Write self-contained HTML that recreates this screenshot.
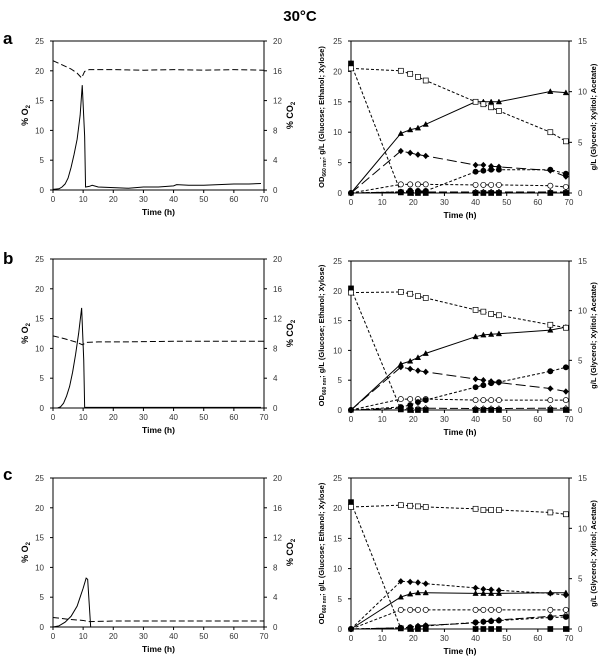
<!DOCTYPE html>
<html><head><meta charset="utf-8"><style>
html,body{margin:0;padding:0;background:#fff;}
svg{display:block;font-family:"Liberation Sans",sans-serif;}
</style></head><body>
<svg id="fig" width="600" height="659" viewBox="0 0 600 659">
<text x="300" y="21" text-anchor="middle" font-size="15" font-weight="bold">30°C</text>
</svg>
<script>
// ---------- data ----------
const sampleTimes = [0,16,19,21.5,24,40,42.5,45,47.5,64,69];
const xyloseA = [20.5,20.1,19.6,19.1,18.5,15.0,14.6,14.1,13.5,10.0,8.5];
const glucoseA = [21.3,0.1,0,0,0,0,0,0,0,0,0];
const triA = [0,9.8,10.4,10.7,11.3,15.0,15.0,15.0,15.0,16.7,16.5];
const diaA = [0,6.9,6.6,6.3,6.1,4.6,4.6,4.4,4.3,3.7,2.7];
const fcircA = [0,0.12,0.24,0.2,0.2,2.1,2.2,2.3,2.3,2.3,1.9];
const ocircA = [0,0.85,0.85,0.85,0.85,0.8,0.8,0.8,0.8,0.72,0.6];
const odiaA = [0,0.1,0.1,0.1,0.1,0.1,0.1,0.1,0.1,0.1,0.1];

const xyloseB = [19.7,19.8,19.5,19.1,18.8,16.8,16.5,16.1,15.9,14.3,13.8];
const glucoseB = [20.4,0.1,0,0,0,0,0,0,0,0,0];
const triB = [0,7.7,8.2,8.8,9.5,12.3,12.6,12.7,12.8,13.4,13.9];
const diaB = [0,7.2,6.9,6.6,6.4,5.2,5.0,4.8,4.6,3.6,3.1];
const fcircB = [0,0.3,0.5,0.8,1.0,2.3,2.5,2.7,2.8,3.9,4.3];
const ocircB = [0,1.1,1.1,1.1,1.1,1.0,1.0,1.0,1.0,1.0,1.0];
const odiaB = [0,0.18,0.18,0.18,0.18,0.15,0.15,0.15,0.15,0.18,0.18];

const xyloseC = [20.2,20.5,20.4,20.3,20.2,19.9,19.7,19.7,19.7,19.3,19.0];
const glucoseC = [21.0,0.1,0,0,0,0,0,0,0,0,0];
const triC = [0,5.3,5.8,6.0,6.0,5.9,5.9,5.9,5.9,6.0,6.0];
const diaC = [0,7.9,7.8,7.7,7.5,6.8,6.6,6.5,6.4,5.9,5.6];
const fcircC = [0,0.12,0.18,0.24,0.3,0.66,0.72,0.78,0.84,1.14,1.2];
const ocircC = [0,1.9,1.9,1.9,1.9,1.9,1.9,1.9,1.9,1.9,1.9];
const odiaC = [0,0.12,0.18,0.3,0.36,0.6,0.72,0.84,0.9,1.26,1.38];

const gasTimeA = [0,2,3,4,5,6,7,8,9,9.7,10.5,10.8,12,13,15,20,25,30,35,40,41,45,50,55,60,65,69];
const solidA  = [0.1,0.2,0.5,1.0,2.0,3.8,6.0,8.5,12.5,17.6,9,0.5,0.6,0.8,0.5,0.4,0.3,0.5,0.5,0.7,0.9,0.8,0.8,0.9,1.0,1.0,1.1];
const dashTimeA = [0,3,6,8,9.5,10.5,12,20,30,40,50,60,70];
const dashA = [21.7,21.0,20.3,19.6,18.8,19.9,20.2,20.2,20.1,20.2,20.1,20.2,20.1];

const gasTimeB = [0,1.5,2.5,3.5,4.5,5.5,6.5,7.5,8.5,9.5,10.2,10.5,12,20,30,40,50,60,69];
const solidB  = [0,0,0.2,0.8,2.0,3.6,6.0,9.0,12.5,16.8,8,0.1,0.1,0.1,0.1,0.1,0.1,0.1,0.1];
const dashTimeB = [0,4,8,9.8,11,15,25,40,50,60,70];
const dashB = [12.1,11.6,11.0,10.6,11.0,11.1,11.1,11.2,11.2,11.2,11.2];

const gasTimeC = [0,2,4,6,8,9,10,11,11.5,12.5,14,30,50,70];
const solidC  = [0,0.2,0.8,1.8,3.5,5.0,6.5,8.2,8.0,0,0,0,0,0];
const dashTimeC = [0,5,10,12,20,30,40,50,60,70];
const dashC = [1.6,1.3,1.1,0.9,1.0,1.0,1.0,1.0,1.0,1.0];

const xTicks = [0,10,20,30,40,50,60,70];
const leftTicks = [0,5,10,15,20,25];
const co2Ticks = [0,4,8,12,16,20];
const glTicks = [0,5,10,15];

// ---------- drawing ----------
const NS="http://www.w3.org/2000/svg";
const svg=document.getElementById('fig');
function el(tag,attrs,parent){const e=document.createElementNS(NS,tag);for(const k in attrs)e.setAttribute(k,attrs[k]);(parent||svg).appendChild(e);return e;}

function axes(g,x0,x1,y0,y1,rightTicks,rightMax){
  const sx=t=>x0+(t/70)*(x1-x0);
  const sy=v=>y1-(v/25)*(y1-y0);
  const sr=v=>y1-(v/rightMax)*(y1-y0);
  const box=el('rect',{x:x0,y:y0,width:x1-x0,height:y1-y0,fill:'none',stroke:'#000','stroke-width':1},g);
  
  xTicks.forEach(t=>{
    el('line',{x1:sx(t),x2:sx(t),y1:y1,y2:y1+3,stroke:'#000'},g);
    const tx=el('text',{x:sx(t),y:y1+12,'text-anchor':'middle','font-size':8,fill:'#333'},g);tx.textContent=t;
    
  });
  leftTicks.forEach(v=>{
    el('line',{x1:x0-3,x2:x0,y1:sy(v),y2:sy(v),stroke:'#000'},g);
    const tx=el('text',{x:x0-9,y:sy(v)+3,'text-anchor':'end','font-size':8,fill:'#333'},g);tx.textContent=v;
    
  });
  rightTicks.forEach(v=>{
    el('line',{x1:x1,x2:x1+3,y1:sr(v),y2:sr(v),stroke:'#000'},g);
    const tx=el('text',{x:x1+9,y:sr(v)+3,'font-size':8,fill:'#333'},g);tx.textContent=v;
    
  });
  const xt=el('text',{x:(x0+x1)/2,y:y1+25,'text-anchor':'middle','font-size':8.5,'font-weight':'bold'},g);xt.textContent='Time (h)';
  
  return {sx,sy,sr};
}

function poly(g,xs,ys,sx,sy,dash,name){
  const p=el('polyline',{points:xs.map((t,i)=>sx(t)+','+sy(ys[i])).join(' '),fill:'none',stroke:'#000','stroke-width':1,'stroke-dasharray':dash||'none'},g);
  
}
function markers(g,xs,ys,sx,sy,shape,fill,name){
  xs.forEach((t,i)=>{
    const x=sx(t),y=sy(ys[i]);let m;
    if(shape==='sq')m=el('rect',{x:x-2.5,y:y-2.5,width:5,height:5,fill:fill,stroke:'#000','stroke-width':0.7},g);
    else if(shape==='ci')m=el('circle',{cx:x,cy:y,r:2.6,fill:fill,stroke:'#000','stroke-width':0.7},g);
    else if(shape==='tr')m=el('polygon',{points:`${x},${y-2.8} ${x-2.7},${y+2.2} ${x+2.7},${y+2.2}`,fill:fill,stroke:'#000','stroke-width':0.5},g);
    else m=el('polygon',{points:`${x},${y-2.7} ${x+2.5},${y} ${x},${y+2.7} ${x-2.5},${y}`,fill:fill,stroke:'#000','stroke-width':0.7},g);
    
  });
}

function gasPanel(label,ly,y0,y1,tS,sS,tD,sD){
  const g=el('g',{});
  
  const L=el('text',{x:3,y:ly,'font-size':17,'font-weight':'bold'},g);L.textContent=label;
  
  const a=axes(g,53,264,y0,y1,co2Ticks,20);
  const yt=el('text',{transform:`translate(28,${(y0+y1)/2}) rotate(-90)`,'text-anchor':'middle','font-size':9,'font-weight':'bold'},g);
  yt.innerHTML='% O<tspan font-size="6" dy="2">2</tspan>';
  
  const rt=el('text',{transform:`translate(293,${(y0+y1)/2}) rotate(-90)`,'text-anchor':'middle','font-size':9,'font-weight':'bold'},g);
  rt.innerHTML='% CO<tspan font-size="6" dy="2">2</tspan>';
  
  poly(g,tD,sD,a.sx,a.sy,'6,3','dashed-gas-line');
  poly(g,tS,sS,a.sx,a.sy,null,'solid-gas-line');
}

function fermPanel(name,y0,y1,xy,gl,tri,dia,fc,oc,od,diaDash){
  const g=el('g',{});
  
  const a=axes(g,351,569,y0,y1,glTicks,15);
  const yt=el('text',{transform:`translate(324,${(y0+y1)/2}) rotate(-90)`,'text-anchor':'middle','font-size':7.5,'font-weight':'bold'},g);
  yt.innerHTML='OD<tspan font-size="5" dy="2">660 nm</tspan><tspan dy="-2">; g/L (Glucose; Ethanol; Xylose)</tspan>';
  
  const rt=el('text',{transform:`translate(596,${(y0+y1)/2}) rotate(-90)`,'text-anchor':'middle','font-size':7.5,'font-weight':'bold'},g);
  rt.textContent='g/L (Glycerol; Xylitol; Acetate)';
  
  const T=sampleTimes;
  poly(g,T,od,a.sx,a.sr,'8,3','open-diamond-line');
  poly(g,T,oc,a.sx,a.sr,'3,2','open-circle-line');
  poly(g,T,fc,a.sx,a.sr,'3,2','filled-circle-line');
  poly(g,T,dia,a.sx,a.sy,diaDash,'filled-diamond-line');
  poly(g,T,tri,a.sx,a.sy,null,'triangle-line');
  poly(g,T,gl,a.sx,a.sy,'3,2','glucose-line');
  poly(g,T,xy,a.sx,a.sy,'3,2','xylose-line');
  markers(g,T,od,a.sx,a.sr,'di','#fff','open-diamond-point');
  markers(g,T,oc,a.sx,a.sr,'ci','#fff','open-circle-point');
  markers(g,T,fc,a.sx,a.sr,'ci','#000','filled-circle-point');
  markers(g,T,dia,a.sx,a.sy,'di','#000','filled-diamond-point');
  markers(g,T,tri,a.sx,a.sy,'tr','#000','triangle-point');
  markers(g,T,gl,a.sx,a.sy,'sq','#000','glucose-point');
  markers(g,T,xy,a.sx,a.sy,'sq','#fff','xylose-point');
}

gasPanel('a',44,41,190,gasTimeA,solidA,dashTimeA,dashA);
gasPanel('b',264,259,408,gasTimeB,solidB,dashTimeB,dashB);
gasPanel('c',480,478,627,gasTimeC,solidC,dashTimeC,dashC);
fermPanel('a',41,193,xyloseA,glucoseA,triA,diaA,fcircA,ocircA,odiaA,'10,4');
fermPanel('b',261,410,xyloseB,glucoseB,triB,diaB,fcircB,ocircB,odiaB,'10,4');
fermPanel('c',478,629,xyloseC,glucoseC,triC,diaC,fcircC,ocircC,odiaC,'3,2');
</script>
</body></html>
